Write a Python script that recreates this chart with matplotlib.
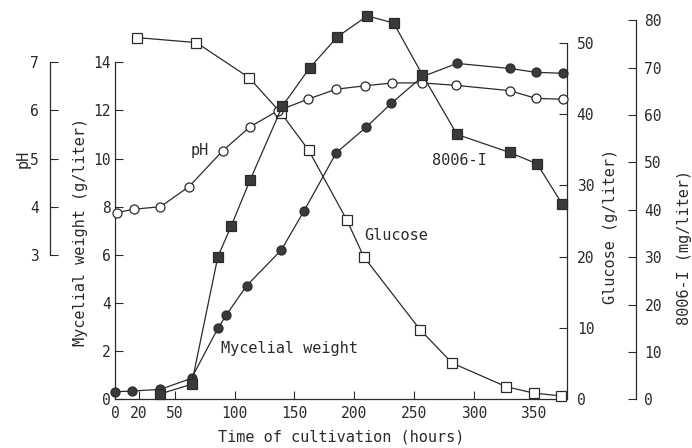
import matplotlib
matplotlib.use("Agg")
import matplotlib.pyplot as plt

plt.rcParams['font.family'] = ['DejaVu Sans Mono', 'DejaVu Sans']

# --- data ---
# mycelial weight (g/liter)
t_myc = [0, 14, 38, 64, 86, 93, 110, 139, 158, 185, 210, 231, 257, 286, 330, 352, 375]
myc = [0.32, 0.35, 0.42, 0.88, 2.95, 3.5, 4.72, 6.2, 7.82, 10.24, 11.3, 12.29, 13.4, 13.95, 13.74, 13.58, 13.54]

# pH
t_ph = [2, 16, 38, 62, 90, 113, 136, 161, 185, 209, 232, 257, 285, 330, 352, 375]
ph = [3.88, 3.95, 4.0, 4.42, 5.16, 5.66, 5.99, 6.23, 6.44, 6.51, 6.57, 6.57, 6.52, 6.41, 6.25, 6.23]

# glucose (g/liter)
t_glc = [18, 68, 112, 139, 162, 194, 208, 255, 282, 327, 350, 373]
glc = [50.7, 50.0, 45.1, 40.1, 34.9, 25.1, 20.0, 9.8, 5.1, 1.8, 0.9, 0.5]

# 8006-I (mg/liter)
t_8006 = [38, 64, 86, 97, 113, 140, 163, 186, 211, 233, 257, 286, 330, 353, 374]
v_8006 = [1.2, 3.2, 30.1, 36.5, 46.3, 61.9, 70.0, 76.5, 80.9, 79.4, 68.5, 55.9, 52.1, 49.7, 41.2]

x_ticks = [0, 20, 50, 100, 150, 200, 250, 300, 350]

INK = '#2b2b2b'
FILL = '#3a3a3a'

fig = plt.figure(figsize=(6.92, 4.48), dpi=100)
ax = fig.add_axes([0.1662, 0.1083, 0.6532, 0.8604])
ax_g = ax.twinx()
ax_ph = ax.twinx()
ax_p = ax.twinx()

ax.set_xlim(0, 378)
ax.set_ylim(0, 16)
ax_g.set_ylim(0, 54)
ax_ph.set_ylim(0, 8)
ax_p.set_ylim(0, 81.3)

for a in (ax, ax_g, ax_ph, ax_p):
    for s in a.spines.values():
        s.set_visible(False)
        s.set_color(INK)
        s.set_linewidth(0.9)

ax.spines['left'].set_visible(True)
ax.spines['left'].set_bounds(0, 14)
ax.spines['bottom'].set_visible(True)

ax_g.spines['right'].set_visible(True)
ax_g.spines['right'].set_bounds(0, 50)

ax_ph.spines['left'].set_visible(True)
ax_ph.spines['left'].set_position(('axes', -0.1438))
ax_ph.spines['left'].set_bounds(3, 7)
ax_ph.yaxis.set_ticks_position('left')

ax_p.spines['right'].set_visible(True)
ax_p.spines['right'].set_position(('axes', 1.1527))
ax_p.spines['right'].set_bounds(0, 80)

ax.set_xticks(x_ticks)
ax.set_yticks(range(0, 15, 2))
ax_g.set_yticks(range(0, 51, 10))
ax_ph.set_yticks(range(3, 8))
ax_p.set_yticks(range(0, 81, 10))

tk = dict(direction='in', length=6, width=0.8, color=INK, labelcolor=INK, labelsize=10.5)
ax.tick_params(axis='x', pad=5, **tk)
ax.tick_params(axis='y', pad=3, **tk)
ax_g.tick_params(axis='y', pad=7, **tk)
ax_ph.tick_params(axis='y', pad=8, **tk)
ax_p.tick_params(axis='y', pad=6, **tk)

ln = dict(color=INK, linewidth=0.9, markersize=6.5, markeredgecolor=INK, markeredgewidth=0.9, clip_on=False)
ax.plot(t_myc, myc, marker='o', markerfacecolor=FILL, zorder=3, **ln)
ax_g.plot(t_glc, glc, marker='s', markerfacecolor='white', zorder=3, **ln)
ax_ph.plot(t_ph, ph, marker='o', markerfacecolor='white', zorder=3, **ln)
ax_p.plot(t_8006, v_8006, marker='s', markerfacecolor=FILL, zorder=3, **ln)

# axis titles and curve labels placed in figure pixels
W, H = 692, 448


def ftext(x, y, s, **kw):
    fig.text(x / W, 1 - y / H, s, ha='center', va='center', color=INK, **kw)


ftext(23, 159, 'pH', rotation=90, fontsize=11)
ftext(80, 232, 'Mycelial weight (g/liter)', rotation=90, fontsize=11)
ftext(611, 226, 'Glucose (g/liter)', rotation=90, fontsize=11)
ftext(684, 247, '8006-I (mg/liter)', rotation=90, fontsize=11)
ftext(341, 437, 'Time of cultivation (hours)', fontsize=11)

ftext(200, 150, 'pH', fontsize=11)
ftext(396, 235, 'Glucose', fontsize=11)
ftext(459, 160, '8006-I', fontsize=11)
ftext(289, 348, 'Mycelial weight', fontsize=11)

fig.savefig('out.png', dpi=100)
